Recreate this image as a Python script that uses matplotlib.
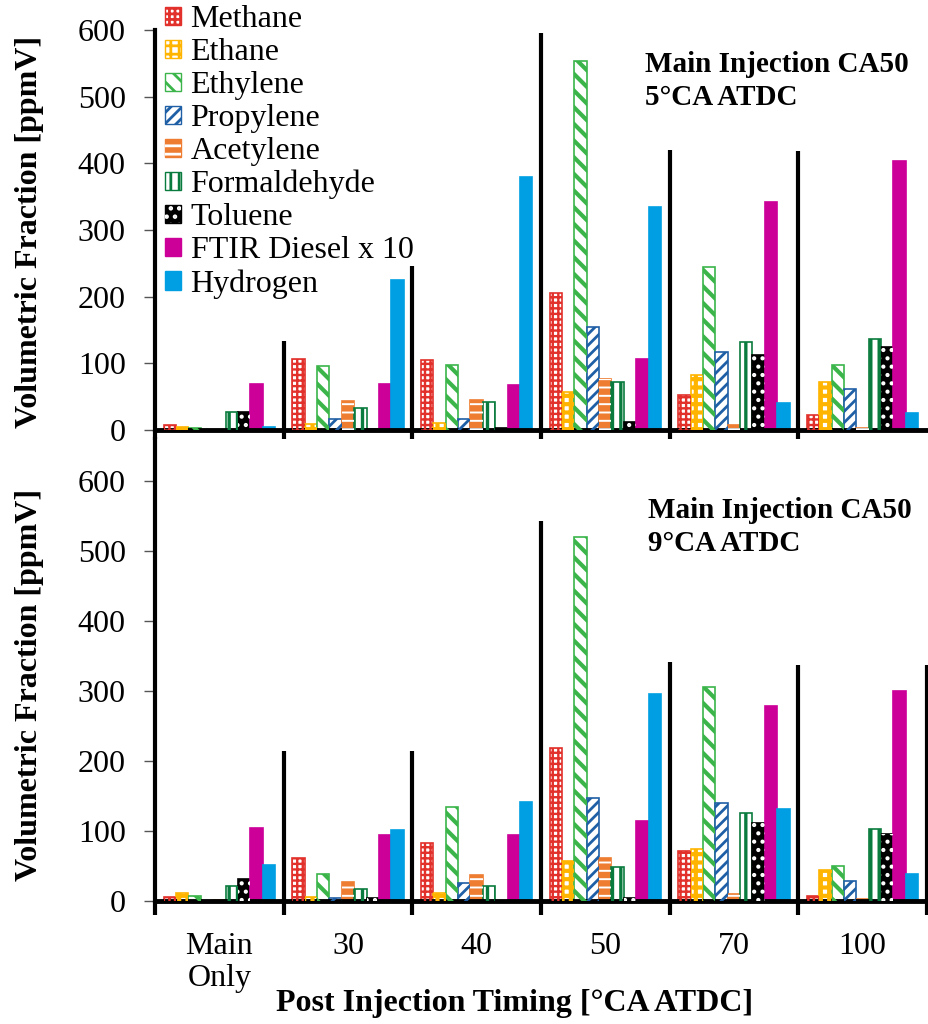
import matplotlib
matplotlib.use("Agg")
from matplotlib import pyplot as plt
from matplotlib.patches import Patch

plt.rcParams['font.family'] = ['Liberation Serif', 'DejaVu Serif']
plt.rcParams['hatch.linewidth'] = 2.0

groups = ['Main\nOnly', '30', '40', '50', '70', '100']
species = ['Methane', 'Ethane', 'Ethylene', 'Propylene', 'Acetylene',
           'Formaldehyde', 'Toluene', 'FTIR Diesel x 10', 'Hydrogen']

# Main injection CA50 = 5 CA ATDC
methane_5 = [7, 106, 105, 205, 52, 22]
ethane_5 = [5, 9, 10, 57, 83, 72]
ethylene_5 = [3, 96, 98, 554, 244, 97]
propylene_5 = [0, 17, 17, 155, 117, 61]
acetylene_5 = [0, 44, 45, 76, 8, 3]
formaldehyde_5 = [27, 33, 42, 72, 132, 137]
toluene_5 = [27, 1, 3, 12, 112, 124]
diesel_5 = [69, 69, 68, 106, 342, 404]
hydrogen_5 = [5, 225, 380, 335, 40, 26]
separators_5 = [133, 246, 595, 420, 418]

# Main injection CA50 = 9 CA ATDC
methane_9 = [6, 61, 83, 219, 72, 7]
ethane_9 = [12, 6, 11, 57, 74, 45]
ethylene_9 = [7, 39, 135, 520, 306, 50]
propylene_9 = [0, 5, 26, 147, 140, 29]
acetylene_9 = [1, 27, 37, 62, 10, 3]
formaldehyde_9 = [22, 17, 22, 48, 126, 103]
toluene_9 = [31, 4, 0, 5, 111, 96]
diesel_9 = [104, 95, 95, 115, 278, 300]
hydrogen_9 = [51, 102, 141, 296, 132, 39]
separators_9 = [214, 214, 543, 341, 337, 337]

panel_5 = [methane_5, ethane_5, ethylene_5, propylene_5, acetylene_5,
           formaldehyde_5, toluene_5, diesel_5, hydrogen_5]
panel_9 = [methane_9, ethane_9, ethylene_9, propylene_9, acetylene_9,
           formaldehyde_9, toluene_9, diesel_9, hydrogen_9]

# face, edge, hatch colour, hatch, hatch linewidth
styles = [
    ('white', '#E2302B', '#E2302B', '+++', 1.7),
    ('white', '#FFB400', '#FFB400', '++', 3.0),
    ('white', '#3BB54A', '#3BB54A', '\\\\', 3.0),
    ('white', '#1F5FA6', '#1F5FA6', '///', 2.0),
    ('#EE7D31', '#EE7D31', 'white', '--', 1.4),
    ('white', '#0A7B3E', '#0A7B3E', '||', 2.4),
    ('black', 'black', 'white', '..', 1.8),
    ('#CC0099', '#CC0099', None, None, 0),
    ('#009FE3', '#009FE3', None, None, 0),
]

W, H = 929, 1024
fig = plt.figure(figsize=(W / 100, H / 100), dpi=100)
bar_w = 0.096
x = list(range(len(groups)))


def hatched(hlw):
    return plt.rc_context({'hatch.linewidth': hlw})


def draw_panel(ax, data, seps, ymax, below):
    for i, vals in enumerate(data):
        face, edge, hcol, hatch, hlw = styles[i]
        xs = [g + (i - 4) * bar_w for g in x]
        ax.bar(xs, vals, bar_w, color=face, edgecolor=edge, linewidth=1.2, zorder=2)
        if hatch:
            with hatched(hlw):
                over = ax.bar(xs, vals, bar_w, facecolor='none', edgecolor=hcol,
                              hatch=hatch, linewidth=0, zorder=3)
            for p in over:
                if hasattr(p, 'set_hatch_linewidth'):
                    p.set_hatch_linewidth(hlw)
    sx = [g + 0.5 for g in range(len(seps))]
    ax.vlines(sx, -below, seps, color='black', linewidth=3, clip_on=False, zorder=4)
    ax.vlines([-0.5], -below, 0, color='black', linewidth=3, clip_on=False, zorder=4)
    ax.set_xlim(-0.5, 5.516)
    ax.set_ylim(0, ymax)
    ax.set_yticks(range(0, 601, 100))
    for s in ['top', 'right']:
        ax.spines[s].set_visible(False)
    ax.spines['left'].set_linewidth(3)
    ax.spines['bottom'].set_linewidth(3.5)
    ax.tick_params(axis='y', length=8, width=1, color='#555555', labelsize=23, pad=13)


ax1 = fig.add_axes([155 / W, 1 - 430 / H, 774 / W, 400 / H])
draw_panel(ax1, panel_5, separators_5, 600, 15)
ax1.set_xticks([])

ax2 = fig.add_axes([155 / W, 1 - 901 / H, 774 / W, 462 / H])
draw_panel(ax2, panel_9, separators_9, 660, 20)
ax2.set_xticks(x, groups)
ax2.tick_params(axis='x', length=0, labelsize=23, pad=22)
for t in ax2.get_xticklabels():
    t.set_linespacing(1.15)

fig.text(30 / W, 1 - 232 / H, 'Volumetric Fraction [ppmV]', rotation=90,
         ha='center', va='center', fontsize=23, fontweight='bold')
fig.text(30 / W, 1 - 685 / H, 'Volumetric Fraction [ppmV]', rotation=90,
         ha='center', va='center', fontsize=23, fontweight='bold')
fig.text(515 / W, 1 - 1003 / H, 'Post Injection Timing [°CA ATDC]',
         ha='center', va='center', fontsize=23, fontweight='bold')

fig.text(645 / W, 1 - 81 / H, 'Main Injection CA50\n5°CA ATDC', ha='left',
         va='center', fontsize=21, fontweight='bold', linespacing=1.25)
fig.text(648 / W, 1 - 527 / H, 'Main Injection CA50\n9°CA ATDC', ha='left',
         va='center', fontsize=21, fontweight='bold', linespacing=1.25)

handles = []
for face, edge, hcol, hatch, hlw in styles:
    base = Patch(facecolor=face, edgecolor=edge, linewidth=1)
    if hatch:
        with hatched(hlw):
            over = Patch(facecolor='none', edgecolor=hcol, hatch=hatch, linewidth=0)
        if hasattr(over, 'set_hatch_linewidth'):
            over.set_hatch_linewidth(hlw)
        handles.append((base, over))
    else:
        handles.append(base)
fig.legend(handles, species, loc='upper left', bbox_to_anchor=(165 / W, 1 - 5 / H),
           frameon=False, fontsize=23, handlelength=0.5, handleheight=0.5,
           handletextpad=0.3, labelspacing=0.125, borderpad=0, borderaxespad=0)

fig.savefig('out.png', dpi=100)
